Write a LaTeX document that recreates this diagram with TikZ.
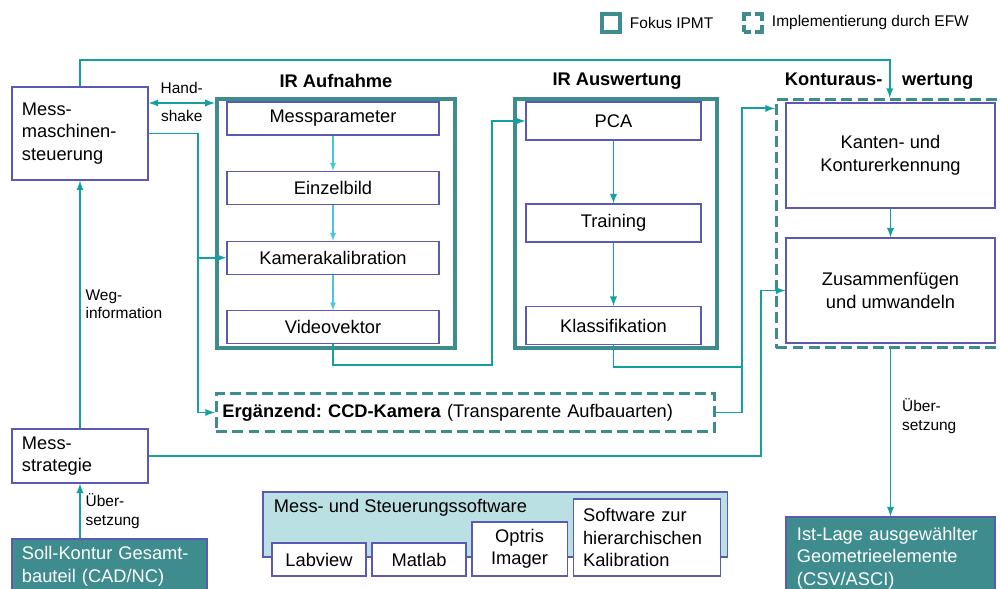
\documentclass[tikz,border=0pt]{standalone}
\usepackage{fontspec}
\setmainfont{Liberation Sans}
\usepackage{xcolor}
\usepackage{tikz}
\usetikzlibrary{shapes,arrows}
\frenchspacing
\definecolor{frameTeal}{RGB}{62,140,142}
\definecolor{lineTeal}{RGB}{20,160,160}
\definecolor{lightCyan}{RGB}{70,200,215}
\definecolor{boxBlue}{RGB}{90,90,180}
\definecolor{softFill}{RGB}{186,224,228}
\tikzstyle{block} = [rectangle, draw=boxBlue, line width=0.8pt, fill=white,
    align=center, inner sep=3pt]
\tikzstyle{leftblock} = [rectangle, draw=boxBlue, line width=0.8pt, fill=white,
    align=left, inner xsep=0.25cm]
\tikzstyle{darkblock} = [rectangle, draw=boxBlue, line width=0.8pt, fill=frameTeal,
    text=white, align=left, inner xsep=0.25cm]
\tikzstyle{softbox} = [rectangle, draw=boxBlue, line width=0.8pt, fill=softFill]
\tikzstyle{aufblock} = [block, minimum width=5.3cm, minimum height=0.825cm]
\tikzstyle{auswblock} = [block, minimum width=4.375cm, minimum height=0.95cm]
\tikzstyle{konturblock} = [block, minimum width=5.225cm, minimum height=2.625cm]
\tikzstyle{focusframe} = [rectangle, draw=frameTeal, line width=3pt]
\tikzstyle{efwframe} = [rectangle, draw=frameTeal, line width=2.2pt,
    dash pattern=on 7.8pt off 3.6pt]
\tikzstyle{heading} = [font=\fontsize{13}{16}\selectfont\bfseries]
\tikzstyle{smalltext} = [font=\fontsize{11}{13}\selectfont, align=left]
\tikzstyle{arrow} = [draw=lineTeal, -latex, line width=1.35pt]
\tikzstyle{line} = [draw=lineTeal, line width=1.35pt]
\tikzstyle{thinarrow} = [draw=lightCyan, -latex, line width=0.9pt]

\begin{document}
\begin{tikzpicture}[x=0.025cm, y=-0.025cm, font=\fontsize{13}{16}\selectfont]
      \clip (0,0) rectangle (1000,589);
      % Legende
      \node [focusframe, minimum size=0.45cm] (legendFocus) at (611,23) {};
      \node [smalltext, anchor=west] (legendFocusText) at (625,23) {Fokus IPMT};
      \node [rectangle, draw=frameTeal, line width=2.8pt, minimum size=0.45cm,
        dash pattern=on 9.8pt off 3pt, dash phase=4.9pt] (legendEfw) at (753,23) {};
      \node [smalltext, anchor=west] (legendEfwText) at (767,23) {Implementierung durch EFW};

      % Place nodes
      \node [leftblock, text width=2.9cm, minimum width=3.4cm, minimum height=2.325cm] (mmSteuerung) at (80,133.5) {Mess-\\maschinen-\\steuerung};
      \node [leftblock, text width=2.9cm, minimum width=3.4cm, minimum height=1.35cm] (messstrategie) at (80,456) {Mess-\\strategie};
      \node [darkblock, text width=4.375cm, minimum width=4.875cm, minimum height=1.375cm] (sollKontur) at (109.5,566.5) {Soll-Kontur Gesamt-\\bauteil (CAD/NC)};

      \node [focusframe, minimum width=5.95cm, minimum height=6.225cm] (aufnahmeFrame) at (336,223.5) {};
      \node [heading] (aufnahmeTitle) at (336,81) {IR Aufnahme};
      \node [aufblock] (messparameter) at (333,118.5) {Messparameter};
      \node [aufblock, below of=messparameter, node distance=1.73cm] (einzelbild) {Einzelbild};
      \node [aufblock, below of=einzelbild, node distance=1.75cm] (kamerakalibration) {Kamerakalibration};
      \node [aufblock, below of=kamerakalibration, node distance=1.74cm] (videovektor) {Videovektor};

      \node [focusframe, minimum width=5.05cm, minimum height=6.225cm] (auswertungFrame) at (616,223.5) {};
      \node [heading] (auswertungTitle) at (617,81) {IR Auswertung};
      \node [auswblock] (pca) at (613.5,121) {PCA};
      \node [auswblock, below of=pca, node distance=2.55cm] (training) {Training};
      \node [auswblock, below of=training, node distance=2.5625cm] (klassifikation) {Klassifikation};

      \node [efwframe, minimum width=5.6625cm, minimum height=6.2cm] (konturFrame) at (889.75,223.5) {};
      \node [heading, anchor=west] (konturTitle) at (780,81) {Konturaus-\hspace{14pt}wertung};
      \node [konturblock] (kanten) at (890.5,155.5) {Kanten- und\\Konturerkennung};
      \node [konturblock, below of=kanten, node distance=3.375cm] (zusammen) {Zusammenfügen\\und umwandeln};
      \node [darkblock, text width=4.675cm, inner xsep=0.275cm, minimum height=2.05cm] (istLage) at (890.5,558) {Ist-Lage ausgewählter\\Geometrieelemente\\(CSV/ASCI)};

      \node [efwframe, text width=12.15cm, inner xsep=0.15cm, minimum height=0.95cm, align=left] (ergaenzend) at (465.5,412.5) {\textbf{Ergänzend: CCD-Kamera} (Transparente Aufbauarten)};

      \node [softbox, minimum width=11.6cm, minimum height=1.625cm] (software) at (495,524.5) {};
      \node [anchor=west] (softwareTitle) at (269,508) {Mess- und Steuerungssoftware};
      \node [block, minimum width=2.35cm, minimum height=0.825cm] (labview) at (319,559.5) {Labview};
      \node [block, minimum width=2.35cm, minimum height=0.825cm, right of=labview, node distance=2.5cm] (matlab) {Matlab};
      \node [block, minimum width=2.375cm, minimum height=1.35cm, right of=matlab, node distance=2.5125cm, yshift=0.2625cm] (optris) {Optris\\Imager};
      \node [block, align=left, text width=3.175cm, inner xsep=0.25cm, minimum height=1.925cm, right of=optris, node distance=3.175cm, yshift=0.2875cm] (kalibSoftware) {Software zur\\hierarchischen\\Kalibration};

      \coordinate (hsLeft) at ([yshift=0.7625cm]mmSteuerung.east);
      \coordinate (rightJoin) at ([xshift=0.65cm]ergaenzend.east);
      \coordinate (konturIn) at ([yshift=-0.15cm]konturFrame.west |- kanten.north);

      % Verbindungen
      \path [arrow] (mmSteuerung.north) -- ++(0,-26) -| (konturFrame.north);
      \path [arrow, latex-latex] (hsLeft) -- node [smalltext, above, yshift=0.1cm] {Hand-} node [smalltext, below, yshift=-0.05cm] {shake} (hsLeft -| aufnahmeFrame.west);
      \path [arrow] (mmSteuerung.east) -- ++(49,0) |- (kamerakalibration.west);
      \path [arrow] (mmSteuerung.east) -- ++(49,0) |- (ergaenzend.west);

      \path [thinarrow] (messparameter) -- (einzelbild);
      \path [thinarrow] (einzelbild) -- (kamerakalibration);
      \path [thinarrow] (kamerakalibration) -- (videovektor);
      \path [arrow] (videovektor.south) |- ++(159,21) |- (pca.west);

      \path [arrow] (pca) -- (training);
      \path [arrow] (training) -- (klassifikation);
      \path [line] (klassifikation.south) |- ++(128.5,22);
      \path [arrow] (ergaenzend.east) -- (rightJoin) |- (konturIn);

      \path [arrow] (kanten) -- (zusammen);
      \path [arrow] (messstrategie.east) -- ++(612,0) |- (zusammen.west);
      \path [arrow] (zusammen.south |- konturFrame.south) -- node [smalltext, right, pos=0.4, xshift=0.15cm] {Über-\\setzung} (istLage.north);

      \path [arrow] (messstrategie.north) -- node [smalltext, right] {Weg-\\information} (mmSteuerung.south);
      \path [arrow] (sollKontur.north -| messstrategie.south) -- node [smalltext, right] {Über-\\setzung} (messstrategie.south);
  \end{tikzpicture}
\end{document}
